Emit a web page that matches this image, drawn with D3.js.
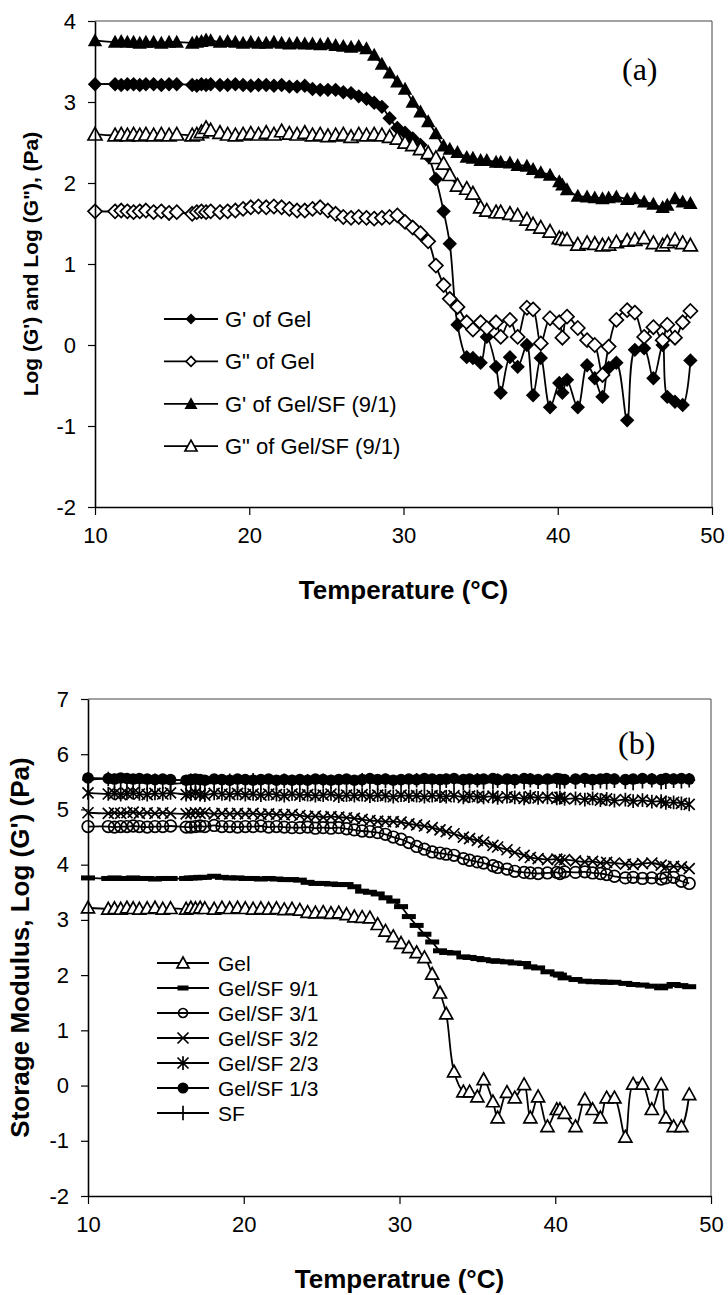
<!DOCTYPE html>
<html><head><meta charset="utf-8">
<script src="https://cdn.jsdelivr.net/npm/d3@7"></script>
<style>
html,body{margin:0;padding:0;background:#fff;}
svg{display:block;}
</style></head>
<body>
<svg id="chart" width="728" height="1295"></svg>
<script>
// ---------- DATA ----------
const temperature = [
  10, 11.3, 11.7, 12.1, 12.5, 12.9, 13.3, 13.8, 14.3, 14.8,
  15.3, 16.3, 16.6, 16.9, 17.2, 17.5, 18.1, 18.6, 19.1, 19.6,
  20.1, 20.6, 21.1, 21.6, 22.1, 22.6, 23.1, 23.6, 24.1, 24.6,
  25.1, 25.6, 26.1, 26.6, 27.1, 27.6, 28.1, 28.6, 29.1, 29.6,
  30.1, 30.6, 31.1, 31.6, 32.1, 32.6, 33.0, 33.5, 34.1, 34.5,
  35.0, 35.4, 36.0, 36.3, 36.9, 37.4, 38.0, 38.4, 38.9, 39.5,
  40.1, 40.3, 40.6, 41.3, 41.9, 42.4, 42.9, 43.3, 43.8, 44.5,
  45.0, 45.6, 46.2, 46.8, 47.1, 47.6, 48.1, 48.6];

// Panel (a)
const gPrimeGel = [
  3.22, 3.22, 3.21, 3.22, 3.22, 3.21, 3.22, 3.22, 3.21, 3.22,
  3.22, 3.21, 3.20, 3.22, 3.21, 3.22, 3.21, 3.21, 3.22, 3.21,
  3.20, 3.21, 3.21, 3.20, 3.21, 3.19, 3.19, 3.20, 3.16, 3.15,
  3.15, 3.15, 3.12, 3.11, 3.07, 3.04, 2.99, 2.94, 2.80, 2.68,
  2.62, 2.55, 2.47, 2.33, 2.05, 1.65, 1.25, 0.25, -0.15, -0.16,
  -0.22, 0.10, -0.27, -0.59, -0.15, -0.27, 0.00, -0.62, -0.16, -0.77,
  -0.47, -0.59, -0.43, -0.77, -0.25, -0.41, -0.64, -0.28, -0.22, -0.93,
  -0.06, -0.04, -0.41, 0.00, -0.64, -0.70, -0.74, -0.19];
const gDoublePrimeGel = [
  1.65, 1.65, 1.66, 1.65, 1.64, 1.65, 1.66, 1.64, 1.65, 1.63,
  1.64, 1.62, 1.64, 1.65, 1.64, 1.65, 1.64, 1.65, 1.66, 1.68,
  1.70, 1.71, 1.70, 1.71, 1.70, 1.68, 1.66, 1.66, 1.68, 1.70,
  1.66, 1.62, 1.58, 1.57, 1.58, 1.57, 1.56, 1.57, 1.58, 1.60,
  1.52, 1.45, 1.38, 1.28, 0.98, 0.74, 0.57, 0.47, 0.28, 0.19,
  0.28, 0.21, 0.28, 0.10, 0.31, 0.10, 0.46, 0.44, 0.02, 0.33,
  0.28, 0.09, 0.35, 0.21, 0.06, 0.00, -0.37, -0.02, 0.31, 0.43,
  0.40, 0.10, 0.22, 0.06, 0.25, 0.09, 0.28, 0.42];
const gPrimeGelSF91 = [
  3.76, 3.74, 3.75, 3.74, 3.74, 3.73, 3.74, 3.74, 3.73, 3.74,
  3.74, 3.73, 3.74, 3.75, 3.77, 3.76, 3.74, 3.75, 3.74, 3.73,
  3.74, 3.73, 3.73, 3.74, 3.73, 3.72, 3.73, 3.72, 3.72, 3.71,
  3.72, 3.70, 3.69, 3.68, 3.69, 3.66, 3.58, 3.47, 3.36, 3.25,
  3.16, 3.00, 2.88, 2.76, 2.61, 2.46, 2.42, 2.38, 2.32, 2.31,
  2.28, 2.28, 2.26, 2.26, 2.25, 2.22, 2.21, 2.17, 2.13, 2.10,
  2.02, 1.98, 1.92, 1.84, 1.83, 1.82, 1.81, 1.82, 1.83, 1.80,
  1.81, 1.77, 1.74, 1.70, 1.73, 1.81, 1.77, 1.75];
const gDoublePrimeGelSF91 = [
  2.60, 2.59, 2.60, 2.59, 2.60, 2.59, 2.60, 2.59, 2.60, 2.59,
  2.60, 2.59, 2.60, 2.63, 2.68, 2.65, 2.62, 2.60, 2.59, 2.60,
  2.61, 2.60, 2.62, 2.60, 2.64, 2.61, 2.60, 2.62, 2.59, 2.60,
  2.58, 2.59, 2.60, 2.57, 2.60, 2.59, 2.60, 2.59, 2.57, 2.55,
  2.50, 2.47, 2.42, 2.37, 2.31, 2.24, 2.10, 1.97, 1.93, 1.87,
  1.70, 1.66, 1.64, 1.64, 1.62, 1.60, 1.55, 1.49, 1.45, 1.40,
  1.32, 1.31, 1.30, 1.24, 1.26, 1.25, 1.23, 1.24, 1.27, 1.29,
  1.30, 1.32, 1.26, 1.23, 1.27, 1.30, 1.26, 1.23];

// Panel (b)
const gelB = [
  3.22, 3.20, 3.21, 3.20, 3.22, 3.21, 3.20, 3.21, 3.22, 3.20,
  3.21, 3.20, 3.22, 3.21, 3.22, 3.21, 3.20, 3.22, 3.21, 3.22,
  3.21, 3.20, 3.21, 3.20, 3.21, 3.19, 3.20, 3.18, 3.14, 3.13,
  3.14, 3.12, 3.13, 3.10, 3.06, 3.05, 3.04, 2.92, 2.80, 2.70,
  2.58, 2.50, 2.41, 2.32, 2.02, 1.68, 1.30, 0.25, -0.11, -0.11,
  -0.20, 0.11, -0.29, -0.58, -0.12, -0.22, 0.02, -0.58, -0.20, -0.74,
  -0.43, -0.43, -0.50, -0.74, -0.25, -0.43, -0.58, -0.22, -0.22, -0.93,
  0.03, 0.03, -0.43, 0.02, -0.58, -0.74, -0.74, -0.16];
const gelSF91B = [
  3.76, 3.75, 3.76, 3.75, 3.75, 3.76, 3.75, 3.75, 3.74, 3.75,
  3.75, 3.75, 3.76, 3.76, 3.77, 3.77, 3.79, 3.77, 3.76, 3.76,
  3.75, 3.75, 3.74, 3.75, 3.74, 3.73, 3.73, 3.72, 3.68, 3.66,
  3.66, 3.65, 3.64, 3.64, 3.60, 3.52, 3.50, 3.47, 3.40, 3.34,
  3.24, 3.06, 2.90, 2.74, 2.60, 2.44, 2.41, 2.40, 2.33, 2.32,
  2.30, 2.28, 2.26, 2.25, 2.24, 2.22, 2.21, 2.15, 2.13, 2.06,
  2.02, 2.00, 1.95, 1.92, 1.89, 1.88, 1.88, 1.87, 1.87, 1.85,
  1.83, 1.82, 1.80, 1.77, 1.80, 1.83, 1.81, 1.79];
const gelSF31B = [
  4.69, 4.69, 4.68, 4.69, 4.69, 4.70, 4.69, 4.68, 4.69, 4.69,
  4.70, 4.68, 4.68, 4.69, 4.70, 4.69, 4.71, 4.69, 4.69, 4.68,
  4.69, 4.69, 4.70, 4.68, 4.69, 4.68, 4.67, 4.67, 4.68, 4.66,
  4.67, 4.66, 4.67, 4.65, 4.63, 4.61, 4.60, 4.58, 4.55, 4.50,
  4.46, 4.40, 4.33, 4.28, 4.23, 4.21, 4.19, 4.17, 4.11, 4.08,
  4.05, 4.03, 3.98, 3.95, 3.92, 3.88, 3.86, 3.85, 3.84, 3.85,
  3.86, 3.84, 3.87, 3.86, 3.87, 3.85, 3.84, 3.82, 3.79, 3.76,
  3.77, 3.75, 3.76, 3.74, 3.76, 3.77, 3.70, 3.66];
const gelSF32B = [
  4.94, 4.93, 4.94, 4.93, 4.94, 4.95, 4.93, 4.94, 4.93, 4.94,
  4.93, 4.92, 4.93, 4.94, 4.93, 4.94, 4.92, 4.93, 4.92, 4.93,
  4.92, 4.93, 4.91, 4.92, 4.91, 4.90, 4.91, 4.89, 4.87, 4.88,
  4.86, 4.87, 4.86, 4.85, 4.84, 4.82, 4.80, 4.79, 4.78, 4.78,
  4.77, 4.74, 4.72, 4.70, 4.67, 4.63, 4.60, 4.56, 4.50, 4.47,
  4.44, 4.41, 4.35, 4.32, 4.27, 4.22, 4.17, 4.13, 4.11, 4.09,
  4.10, 4.08, 4.09, 4.07, 4.05, 4.06, 4.03, 4.04, 4.03, 4.01,
  4.00, 4.02, 4.03, 3.99, 3.96, 3.97, 3.96, 3.93];
const gelSF23B = [
  5.30, 5.28, 5.29, 5.27, 5.29, 5.30, 5.28, 5.27, 5.29, 5.28,
  5.30, 5.27, 5.28, 5.30, 5.27, 5.26, 5.29, 5.28, 5.27, 5.29,
  5.27, 5.28, 5.26, 5.28, 5.27, 5.25, 5.28, 5.26, 5.27, 5.25,
  5.26, 5.28, 5.24, 5.26, 5.25, 5.27, 5.24, 5.26, 5.25, 5.23,
  5.26, 5.24, 5.25, 5.23, 5.25, 5.24, 5.23, 5.25, 5.22, 5.24,
  5.23, 5.22, 5.24, 5.21, 5.23, 5.22, 5.20, 5.23, 5.21, 5.22,
  5.20, 5.22, 5.19, 5.20, 5.18, 5.20, 5.17, 5.19, 5.16, 5.18,
  5.15, 5.17, 5.14, 5.15, 5.12, 5.13, 5.11, 5.09];
const gelSF13B = [
  5.57, 5.56, 5.55, 5.57, 5.56, 5.55, 5.56, 5.55, 5.54, 5.55,
  5.54, 5.53, 5.54, 5.55, 5.54, 5.53, 5.55, 5.54, 5.53, 5.55,
  5.54, 5.53, 5.54, 5.55, 5.53, 5.54, 5.53, 5.54, 5.53, 5.55,
  5.54, 5.53, 5.54, 5.55, 5.53, 5.54, 5.56, 5.54, 5.55, 5.53,
  5.54, 5.55, 5.54, 5.56, 5.55, 5.54, 5.55, 5.56, 5.54, 5.55,
  5.54, 5.55, 5.56, 5.54, 5.55, 5.54, 5.56, 5.55, 5.54, 5.55,
  5.56, 5.55, 5.54, 5.55, 5.56, 5.54, 5.55, 5.56, 5.55, 5.54,
  5.55, 5.56, 5.55, 5.54, 5.56, 5.55, 5.56, 5.55];
const sfB = [
  5.54, 5.55, 5.52, 5.50, 5.53, 5.49, 5.51, 5.48, 5.52, 5.50,
  5.47, 5.49, 5.52, 5.48, 5.50, 5.47, 5.51, 5.49, 5.52, 5.48,
  5.50, 5.53, 5.49, 5.51, 5.48, 5.52, 5.50, 5.49, 5.51, 5.48,
  5.52, 5.50, 5.47, 5.51, 5.49, 5.53, 5.50, 5.48, 5.52, 5.49,
  5.51, 5.50, 5.53, 5.48, 5.51, 5.49, 5.52, 5.50, 5.48, 5.51,
  5.53, 5.49, 5.50, 5.52, 5.48, 5.51, 5.49, 5.53, 5.50, 5.48,
  5.52, 5.49, 5.51, 5.50, 5.53, 5.48, 5.51, 5.49, 5.52, 5.50,
  5.48, 5.51, 5.53, 5.49, 5.50, 5.52, 5.51, 5.53];

const xTicks = [10, 20, 30, 40, 50];
const yTicksA = [-2, -1, 0, 1, 2, 3, 4];
const yTicksB = [-2, -1, 0, 1, 2, 3, 4, 5, 6, 7];

const seriesA = [
  {name: "G' of Gel", values: gPrimeGel, marker: "diamondFill"},
  {name: 'G" of Gel', values: gDoublePrimeGel, marker: "diamondOpen"},
  {name: "G' of Gel/SF (9/1)", values: gPrimeGelSF91, marker: "triFill"},
  {name: 'G" of Gel/SF (9/1)', values: gDoublePrimeGelSF91, marker: "triOpen"}
];
const seriesB = [
  {name: "Gel", values: gelB, marker: "triOpen"},
  {name: "Gel/SF 9/1", values: gelSF91B, marker: "dash"},
  {name: "Gel/SF 3/1", values: gelSF31B, marker: "circleOpen"},
  {name: "Gel/SF 3/2", values: gelSF32B, marker: "cross"},
  {name: "Gel/SF 2/3", values: gelSF23B, marker: "star"},
  {name: "Gel/SF 1/3", values: gelSF13B, marker: "circleFill"},
  {name: "SF", values: sfB, marker: "plus"}
];

// ---------- DRAWING ----------
const svg = d3.select("#chart");
const FONT = "'Liberation Sans', Arial, sans-serif";

function drawShape(g, type, s) {
  const sw = 1.7;
  switch (type) {
    case "diamondFill":
      g.append("path").attr("d", `M0,${-s}L${s},0L0,${s}L${-s},0Z`).attr("fill", "#000"); break;
    case "diamondOpen":
      g.append("path").attr("d", `M0,${-s}L${s},0L0,${s}L${-s},0Z`).attr("fill", "#fff").attr("stroke", "#000").attr("stroke-width", sw); break;
    case "triFill":
      g.append("path").attr("d", `M0,${-s}L${s},${s*0.8}L${-s},${s*0.8}Z`).attr("fill", "#000"); break;
    case "triOpen":
      g.append("path").attr("d", `M0,${-s}L${s},${s*0.8}L${-s},${s*0.8}Z`).attr("fill", "#fff").attr("stroke", "#000").attr("stroke-width", sw); break;
    case "dash":
      g.append("rect").attr("x", -s).attr("y", -2.5).attr("width", 2*s).attr("height", 5).attr("fill", "#000"); break;
    case "circleOpen":
      g.append("circle").attr("r", s).attr("fill", "none").attr("stroke", "#000").attr("stroke-width", sw); break;
    case "circleFill":
      g.append("circle").attr("r", s).attr("fill", "#000"); break;
    case "cross":
      g.append("path").attr("d", `M${-s},${-s}L${s},${s}M${-s},${s}L${s},${-s}`).attr("stroke", "#000").attr("stroke-width", sw); break;
    case "star":
      g.append("path").attr("d", `M${-s},${-s}L${s},${s}M${-s},${s}L${s},${-s}M0,${-s*1.25}L0,${s*1.25}`).attr("stroke", "#000").attr("stroke-width", sw); break;
    case "plus":
      g.append("path").attr("d", `M${-s},0L${s},0M0,${-s*1.2}L0,${s*1.2}`).attr("stroke", "#000").attr("stroke-width", sw); break;
  }
}

function panel(opt) {
  const {left, right, top, bottom, yDomain, yTicks, series, sizes, curve,
         xTitle, yTitle, yTitleX, yTitleSize, tag, tagX, tagY, legend} = opt;
  const x = d3.scaleLinear().domain([10, 50]).range([left, right]);
  const y = d3.scaleLinear().domain(yDomain).range([bottom, top]);
  const g = svg.append("g");

  // frame (top/right)
  g.append("path").attr("d", `M${left},${top}H${right}V${bottom}`)
    .attr("fill", "none").attr("stroke", "#444").attr("stroke-width", 1);

  // series
  const line = d3.line().x(d => x(d[0])).y(d => y(d[1])).curve(curve);
  series.forEach(s => {
    const pts = temperature.map((t, i) => [t, s.values[i]]).filter(d => d[1] != null);
    g.append("path").datum(pts).attr("d", line)
      .attr("fill", "none").attr("stroke", "#000").attr("stroke-width", 1.8);
    g.append("g").selectAll("g").data(pts).join("g")
      .attr("transform", d => `translate(${x(d[0])},${y(d[1])})`)
      .each(function () { drawShape(d3.select(this), s.marker, sizes[s.marker]); });
  });

  // axes
  const fmt = d => String(d);
  const ax = g.append("g").attr("transform", `translate(0,${bottom})`)
    .call(d3.axisBottom(x).tickValues(xTicks).tickFormat(fmt).tickSize(8).tickSizeOuter(0).tickPadding(12));
  const ay = g.append("g").attr("transform", `translate(${left},0)`)
    .call(d3.axisLeft(y).tickValues(yTicks).tickFormat(fmt).tickSize(7).tickSizeOuter(0).tickPadding(12));
  [ax, ay].forEach(a => {
    a.select(".domain").attr("stroke", "#000").attr("stroke-width", 1.6);
    a.selectAll(".tick line").attr("stroke", "#000").attr("stroke-width", 1.2);
    a.selectAll(".tick text").attr("fill", "#000").style("font-family", FONT).style("font-size", "22px");
  });

  // titles
  g.append("text").attr("x", (left + right) / 2).attr("y", bottom + 92)
    .attr("text-anchor", "middle").style("font-family", FONT).style("font-weight", "bold")
    .style("font-size", "26px").text(xTitle);
  g.append("text").attr("transform", `translate(${yTitleX},${(top + bottom) / 2}) rotate(-90)`)
    .attr("text-anchor", "middle").style("font-family", FONT).style("font-weight", "bold")
    .style("font-size", yTitleSize + "px").text(yTitle);
  g.append("text").attr("x", tagX).attr("y", tagY)
    .style("font-family", "'Liberation Serif', 'Times New Roman', serif").style("font-size", "32px").text(tag);

  // legend
  const lg = g.append("g");
  series.forEach((s, i) => {
    const ly = legend.y0 + i * legend.dy;
    lg.append("line").attr("x1", legend.x0).attr("x2", legend.x1).attr("y1", ly).attr("y2", ly)
      .attr("stroke", "#000").attr("stroke-width", 1.8);
    const mg = lg.append("g").attr("transform", `translate(${(legend.x0 + legend.x1) / 2},${ly})`);
    drawShape(mg, s.marker, legend.sizes[s.marker]);
    lg.append("text").attr("x", legend.tx).attr("y", ly).attr("dy", "0.36em")
      .style("font-family", FONT).style("font-size", legend.font + "px").text(s.name);
  });
}

panel({
  left: 95, right: 712, top: 21, bottom: 507,
  yDomain: [-2, 4], yTicks: yTicksA, series: seriesA,
  sizes: {diamondFill: 7.2, diamondOpen: 7, triFill: 7.2, triOpen: 7},
  curve: d3.curveCatmullRom.alpha(0.5),
  xTitle: "Temperature (°C)", yTitle: "Log (G') and Log (G\"), (Pa)", yTitleX: 38, yTitleSize: 21,
  tag: "(a)", tagX: 622, tagY: 80,
  legend: {x0: 164, x1: 218, tx: 225, y0: 319, dy: 42.4, font: 22,
           sizes: {diamondFill: 5.5, diamondOpen: 5, triFill: 6.5, triOpen: 6}}
});

panel({
  left: 88, right: 711, top: 699, bottom: 1196,
  yDomain: [-2, 7], yTicks: yTicksB, series: seriesB,
  sizes: {triOpen: 6.5, dash: 7, circleOpen: 5.8, cross: 5.5, star: 5.5, circleFill: 5.8, plus: 6},
  curve: d3.curveCatmullRom.alpha(0.5),
  xTitle: "Temperatrue (°C)", yTitle: "Storage Modulus, Log (G') (Pa)", yTitleX: 29, yTitleSize: 26,
  tag: "(b)", tagX: 618, tagY: 754,
  legend: {x0: 157, x1: 209, tx: 218, y0: 963, dy: 25, font: 21,
           sizes: {triOpen: 6, dash: 5.5, circleOpen: 4.5, cross: 5.5, star: 5.5, circleFill: 5.5, plus: 6}}
});
</script>
</body></html>
